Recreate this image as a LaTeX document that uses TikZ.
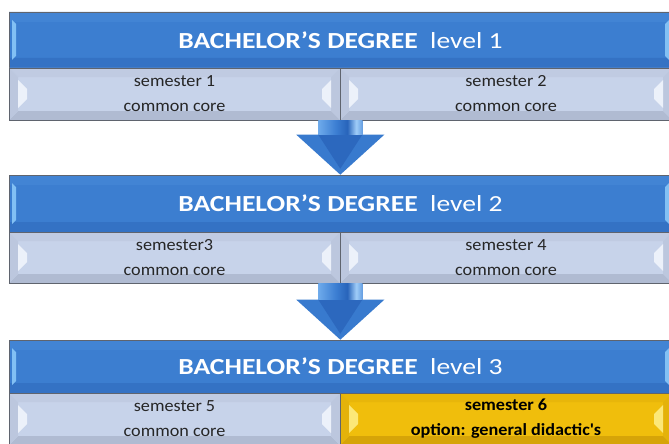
\documentclass[tikz,border=0pt]{standalone}
\usepackage{fontspec}
\setmainfont{Carlito}
\newfontfamily\hfont[FakeStretch=1.2]{Carlito}
\newfontfamily\sfont[FakeStretch=1.07]{Carlito}
\usetikzlibrary{calc}
\definecolor{hblue}{RGB}{60,126,208}
\definecolor{htop}{RGB}{66,132,212}
\definecolor{hbot}{RGB}{52,114,196}
\definecolor{hglint}{RGB}{130,192,244}
\definecolor{semfill}{RGB}{199,211,234}
\definecolor{semtop}{RGB}{192,203,226}
\definecolor{sembot}{RGB}{176,187,210}
\definecolor{semside}{RGB}{188,199,222}
\definecolor{semglint}{RGB}{236,241,250}
\definecolor{yel}{RGB}{240,190,12}
\definecolor{yeltop}{RGB}{232,182,10}
\definecolor{yelbot}{RGB}{214,164,8}
\definecolor{yelside}{RGB}{228,178,10}
\definecolor{yelglint}{RGB}{252,232,120}
\definecolor{edge}{RGB}{95,100,110}
\definecolor{arrd}{RGB}{40,100,186}
\definecolor{arrm}{RGB}{60,126,210}
\definecolor{arrl}{RGB}{110,170,235}
\definecolor{arrb}{RGB}{160,205,248}
\definecolor{arrhead}{RGB}{56,122,206}
\definecolor{arrinner}{RGB}{44,104,190}
\pgfdeclarehorizontalshading{shaftshade}{100bp}{color(0bp)=(arrd); color(25bp)=(arrl); color(45bp)=(arrm); color(58bp)=(arrd); color(68bp)=(arrb); color(80bp)=(arrm); color(100bp)=(arrd)}
\tikzset{
  bevel/.style n args={9}{path picture={
    \path (path picture bounding box.north west) coordinate (ppnw)
          (path picture bounding box.north east) coordinate (ppne)
          (path picture bounding box.south west) coordinate (ppsw)
          (path picture bounding box.south east) coordinate (ppse);
    \fill[#1] (ppnw) -- (ppne) -- ([shift={(-#5,-#6)}]ppne) -- ([shift={(#5,-#6)}]ppnw) -- cycle;
    \fill[#2] (ppsw) -- (ppse) -- ([shift={(-#5,#6)}]ppse) -- ([shift={(#5,#6)}]ppsw) -- cycle;
    \fill[#3] (ppnw) -- ([shift={(#5,-#6)}]ppnw) -- ([shift={(#5,#6)}]ppsw) -- (ppsw) -- cycle;
    \fill[#3] (ppne) -- ([shift={(-#5,-#6)}]ppne) -- ([shift={(-#5,#6)}]ppse) -- (ppse) -- cycle;
    \fill[#4] ([shift={(#7,-#9)}]ppnw) -- ([shift={(#7+#8,-#9-#8)}]ppnw)
       -- ([shift={(#7+#8,#9+#8)}]ppsw) -- ([shift={(#7,#9)}]ppsw) -- cycle;
    \fill[#4] ([shift={(-#7,-#9)}]ppne) -- ([shift={(-#7-#8,-#9-#8)}]ppne)
       -- ([shift={(-#7-#8,#9+#8)}]ppse) -- ([shift={(-#7,#9)}]ppse) -- cycle;
  }},
  header/.style={draw=edge, line width=0.6pt, fill=hblue, text=white,
    minimum width=663pt, minimum height=56pt, inner sep=0pt,
    bevel={htop}{hbot}{hblue}{hglint}{1pt}{10pt}{3pt}{4pt}{8pt},
    font=\hfont\fontsize{23}{27}\selectfont},
  sembox/.style={draw=edge, line width=0.6pt, fill=semfill, text=black!85,
    minimum height=52pt, inner sep=0pt, align=center,
    bevel={semtop}{sembot}{semside}{semglint}{9pt}{9pt}{9pt}{9pt}{12pt},
    font=\sfont\fontsize{17}{25}\selectfont},
  optbox/.style={sembox, fill=yel, text=black,
    bevel={yeltop}{yelbot}{yelside}{yelglint}{9pt}{9pt}{9pt}{9pt}{12pt},
    font=\sfont\bfseries\fontsize{17}{25}\selectfont},
}
\newcommand\blockarr[2]{%
  \fill[arrhead] let \p1=(#1), \p2=(#2) in
    (\x1-22pt,\y1) -- (\x1-22pt,\y2+40pt) -- (\x1-44pt,\y2+40pt) -- (\x1,\y2)
    -- (\x1+44pt,\y2+40pt) -- (\x1+22pt,\y2+40pt) -- (\x1+22pt,\y1) -- cycle;
  \fill[arrinner] let \p1=(#1), \p2=(#2) in
    (\x1-22pt,\y2+40pt) -- (\x1,\y2+6pt) -- (\x1+22pt,\y2+40pt) -- cycle;
  \shade[shading=shaftshade] let \p1=(#1), \p2=(#2) in
    (\x1-22pt,\y1) rectangle (\x1+22pt,\y2+40pt);
}
\begin{document}
\begin{tikzpicture}[x=1pt,y=-1pt]
\useasboundingbox (0,0) rectangle (669,444);
\fill[white] (0,0) rectangle (669,444);
% level 1
\node[header] (h1) at (340.5,40) {\textbf{BACHELOR’S DEGREE}\ \ level 1};
\node[sembox, minimum width=331pt] (s1) at (174.5,94) {semester 1\\common core};
\node[sembox, minimum width=332pt] (s2) at (506,94) {semester 2\\common core};
% level 2
\node[header, minimum height=57pt] (h2) at (340.5,203.5) {\textbf{BACHELOR’S DEGREE}\ \ level 2};
\node[sembox, minimum width=331pt, minimum height=51pt] (s3) at (174.5,257.5) {semester3\\common core};
\node[sembox, minimum width=332pt, minimum height=51pt] (s4) at (506,257.5) {semester 4\\common core};
% level 3
\node[header, minimum height=53pt] (h3) at (340.5,366.5) {\textbf{BACHELOR’S DEGREE}\ \ level 3};
\node[sembox, minimum width=331pt] (s5) at (174.5,419) {semester 5\\common core};
\node[optbox, minimum width=332pt] (s6) at (506,419) {semester 6\\option: general didactic\textquotesingle s};
% arrows
\blockarr{s1.south east}{h2.north -| s1.south east}
\blockarr{s3.south east}{h3.north -| s3.south east}
\end{tikzpicture}
\end{document}
